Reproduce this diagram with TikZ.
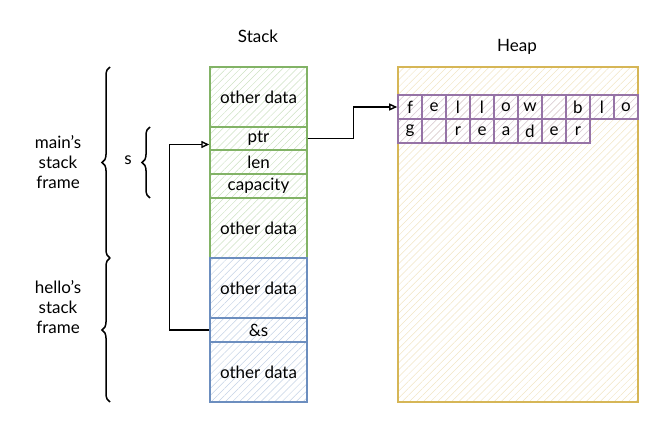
\documentclass[tikz,border=0pt]{standalone}
\usepackage{fontspec}
\setmainfont{Lato}
\usetikzlibrary{arrows.meta,patterns.meta,decorations.pathreplacing}

\definecolor{main green}{HTML}{82B366}
\definecolor{hello blue}{HTML}{6C8EBF}
\definecolor{char purple}{HTML}{9673A6}
\definecolor{heap yellow}{HTML}{D6B656}

\tikzstyle{hatch}      = [pattern={Lines[angle=45,distance=5pt,line width=0.5pt]}]
\tikzstyle{stack cell} = [draw,line width=1.4pt,minimum width=97pt,inner sep=0pt,text=black,hatch]
\tikzstyle{main cell}  = [stack cell,draw=main green,pattern color=main green!40]
\tikzstyle{hello cell} = [stack cell,draw=hello blue,pattern color=hello blue!40]
\tikzstyle{heap char}  = [draw=char purple,line width=1.6pt,minimum size=24pt,inner sep=0pt,hatch,pattern color=char purple!35]
\tikzstyle{frame brace}= [decorate,decoration={brace,amplitude=8pt},line width=1.5pt]
\tikzstyle{pointer}    = [-{Triangle[open,length=8pt,width=7pt]},line width=1.4pt]
\tikzstyle{notation}   = [align=center]

\begin{document}
\begin{tikzpicture}[x=1pt,y=-1pt,font=\fontsize{17}{20}\selectfont]
\useasboundingbox (0,0) rectangle (657,422);
% Draw the titles
\node[notation] (stacktitle) at (258,36) {Stack};
\node[notation] (heaptitle) at (517,47) {Heap};
% Draw the stack of main
\node[main cell,minimum height=60pt] (od1) at (258.5,97) {other data};
\node[main cell,minimum height=23pt] (ptr) at (258.5,138.5) {ptr};
\node[main cell,minimum height=24pt] (len) at (258.5,162) {len};
\node[main cell,minimum height=24pt] (cap) at (258.5,186) {capacity};
\node[main cell,minimum height=60pt] (od2) at (258.5,228) {other data};
% Draw the stack of hello
\node[hello cell,minimum height=60pt] (od3) at (258.5,288) {other data};
\node[hello cell,minimum height=24pt] (refs) at (258.5,330) {\&s};
\node[hello cell,minimum height=60pt] (od4) at (258.5,372) {other data};
% Draw the heap
\node[draw=heap yellow,line width=1.4pt,minimum width=240pt,minimum height=335pt,hatch,pattern color=heap yellow!35] (heap) at (518,234.5) {};
\foreach \c [count=\i from 0] in {f,e,l,l,o,w,{},b,l,o}
  \node[heap char] (c\i) at (410+24*\i,107) {\c};
\foreach \c [count=\i from 0] in {g,{},r,e,a,d,e,r}
  \node[heap char] (d\i) at (410+24*\i,131) {\c};
% Draw the frame braces
\draw[frame brace] (110,258) -- (110,67);
\draw[frame brace] (110,402) -- (110,258);
\draw[frame brace] (150,198) -- (150,127);
\node[notation] (mainlbl) at (58,162) {main's\\stack\\frame};
\node[notation] (hellolbl) at (58,307) {hello's\\stack\\frame};
\node[notation] (slbl) at (128,160) {s};
% Draw the pointers
\draw[pointer] (ptr.east) -- ++(46,0) |- (c0.west);
\draw[pointer] (refs.west) -- ++(-40,0) |- ([yshift=-6pt]ptr.west);
\end{tikzpicture}
\end{document}
